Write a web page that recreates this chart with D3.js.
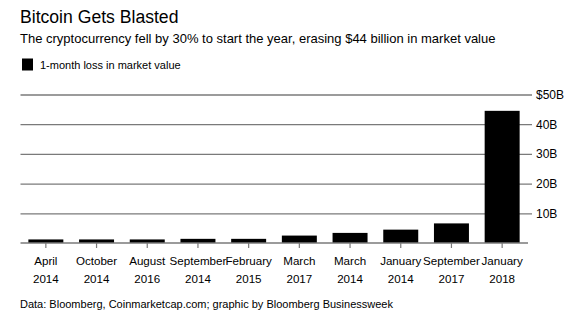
<!DOCTYPE html>
<html>
<head>
<meta charset="utf-8">
<script src="https://cdn.jsdelivr.net/npm/d3@7"></script>
<style>
  body { margin: 0; background: #fff; }
  text { font-family: "Liberation Sans", Arial, sans-serif; fill: #000; }
</style>
</head>
<body>
<script>
// labels on the x axis (two lines each)
months = ["April", "October", "August", "September", "February", "March", "March", "January", "September", "January"]
years = ["2014", "2014", "2016", "2014", "2015", "2017", "2014", "2014", "2017", "2018"]
// 1-month loss in market value, $ billions
losses = [1.2, 1.2, 1.2, 1.4, 1.4, 2.5, 3.4, 4.5, 6.6, 44.5]
yTicks = [10, 20, 30, 40, 50]

width = 577
height = 325

periods = months.map((m, i) => m + " " + years[i])

x = d3.scaleBand()
    .domain(periods)
    .range([20.5, 527.5])
    .paddingInner(0.31)
    .paddingOuter(0.155)

y = d3.scaleLinear()
    .domain([0, 50])
    .range([243, 94.5])

var svg = d3.select("body").append("svg")
    .attr("width", width)
    .attr("height", height)

// titles
svg.append("text")
    .attr("x", 20)
    .attr("y", 23)
    .attr("font-size", 17.6)
    .text("Bitcoin Gets Blasted")

svg.append("text")
    .attr("x", 20)
    .attr("y", 43)
    .attr("font-size", 13)
    .text("The cryptocurrency fell by 30% to start the year, erasing $44 billion in market value")

// legend
svg.append("rect")
    .attr("x", 22)
    .attr("y", 58.5)
    .attr("width", 11)
    .attr("height", 12)
    .attr("fill", "#000")

svg.append("text")
    .attr("x", 40)
    .attr("y", 69)
    .attr("font-size", 11)
    .text("1-month loss in market value")

// gridlines + y labels on the right
const yAxis = d3.axisRight(y)
    .tickValues(yTicks)
    .tickSize(0)
    .tickPadding(8)
    .tickFormat(d => d === 50 ? "$50B" : d + "B")

const gy = svg.append("g")
    .attr("transform", `translate(528,0)`)
    .call(yAxis)
gy.select(".domain").remove()
gy.selectAll(".tick line").remove()
gy.selectAll(".tick").append("line")
    .attr("x1", -507.5)
    .attr("x2", 4)
    .attr("stroke", "#7a7a7a")
    .attr("stroke-width", 1.3)
gy.selectAll(".tick text")
    .attr("font-size", 12)
    .attr("font-family", "Liberation Sans, Arial, sans-serif")
    .attr("fill", "#000")

// bars
svg.append("g")
    .selectAll("rect")
    .data(losses)
    .join("rect")
    .attr("x", (d, i) => x(periods[i]))
    .attr("width", x.bandwidth())
    .attr("y", d => y(d))
    .attr("height", d => y(0) - y(d))
    .attr("fill", "#000")

// baseline + ticks
const xAxis = d3.axisBottom(x)
    .tickSize(5)
    .tickSizeOuter(0)
    .tickFormat("")

const gx = svg.append("g")
    .attr("transform", `translate(0,${y(0)})`)
    .call(xAxis)
gx.select(".domain")
    .attr("stroke", "#7a7a7a")
    .attr("stroke-width", 1.5)
    .attr("d", "M20.5,0H528")
gx.selectAll(".tick line")
    .attr("stroke", "#7a7a7a")
    .attr("stroke-width", 1.2)

const lbl = svg.append("g")
    .selectAll("text")
    .data(periods)
    .join("text")
    .attr("text-anchor", "middle")
    .attr("font-size", 11.6)
    .attr("x", d => x(d) + x.bandwidth() / 2)

lbl.append("tspan")
    .attr("x", d => x(d) + x.bandwidth() / 2)
    .attr("y", 265)
    .text((d, i) => months[i])
lbl.append("tspan")
    .attr("x", d => x(d) + x.bandwidth() / 2)
    .attr("y", 282.5)
    .text((d, i) => years[i])

// source
svg.append("text")
    .attr("x", 20)
    .attr("y", 308)
    .attr("font-size", 11)
    .text("Data: Bloomberg, Coinmarketcap.com; graphic by Bloomberg Businessweek")
</script>
</body>
</html>
